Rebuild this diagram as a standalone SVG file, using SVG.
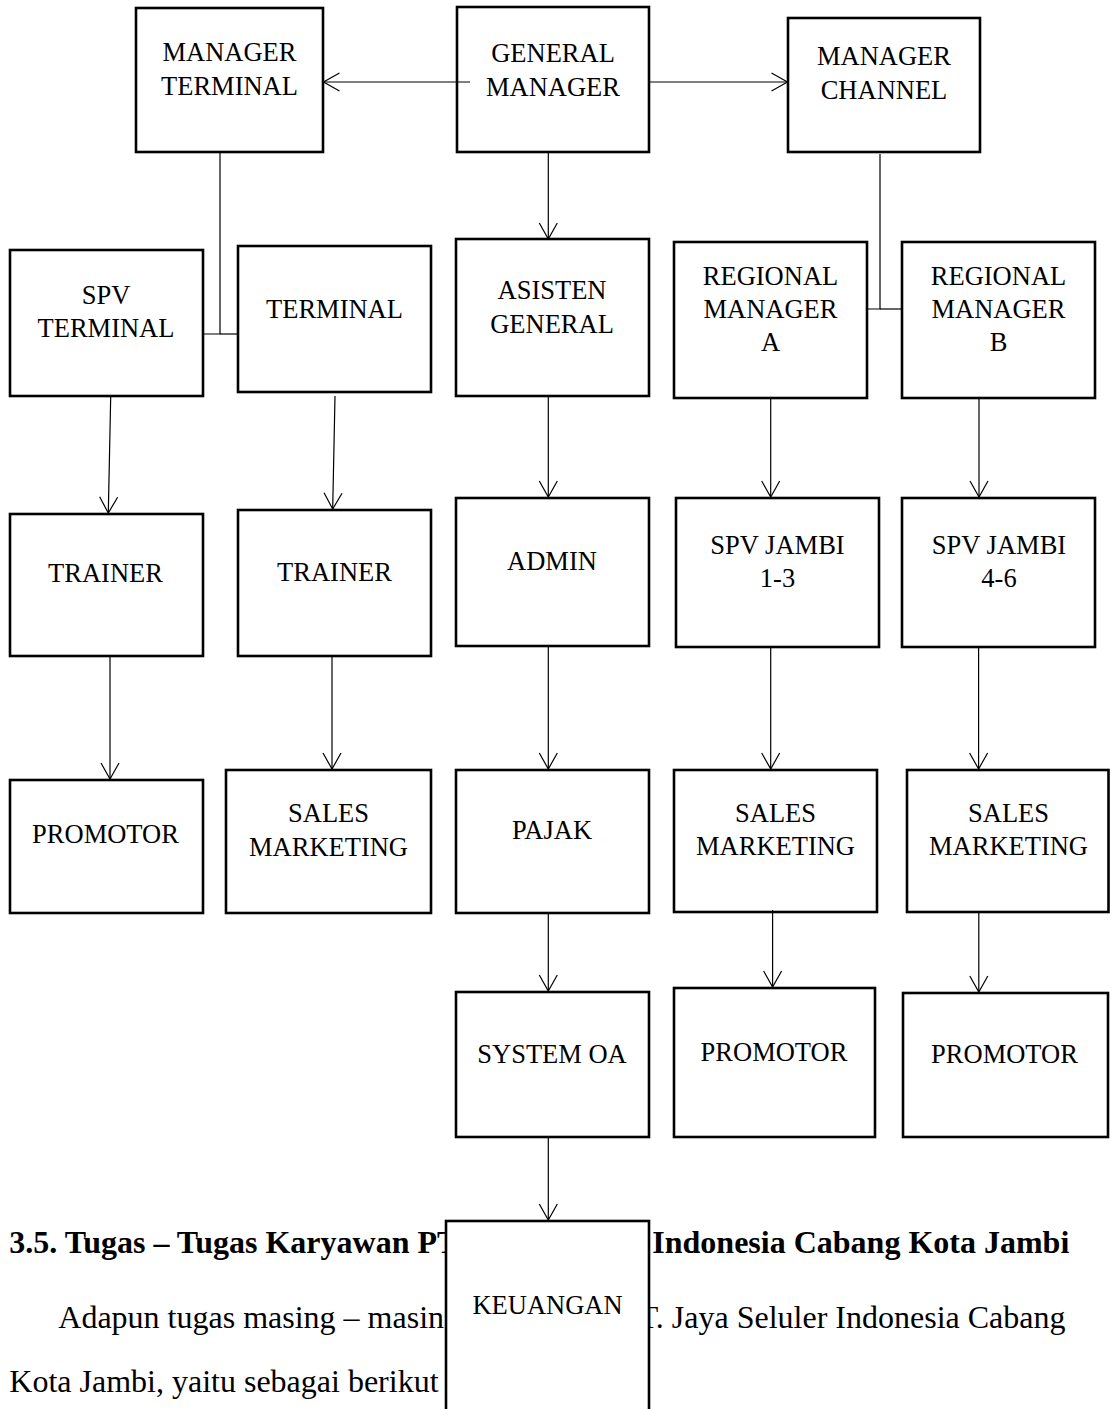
<svg xmlns="http://www.w3.org/2000/svg" width="1111" height="1409" viewBox="0 0 1111 1409">
<style>
.box{fill:#fff;stroke:#000;stroke-width:2.6}
.lbl{font-family:"Liberation Serif","Times New Roman",serif;font-size:26.5px;fill:#000;text-anchor:middle}
.ln{fill:none;stroke:#000;stroke-width:1.2}
.body{font-family:"Liberation Serif","Times New Roman",serif;font-size:32px;fill:#000}
.head{font-weight:bold}
</style>
<defs>
<marker id="arr" markerUnits="userSpaceOnUse" markerWidth="20" markerHeight="20" viewBox="-18 -10 20 20" refX="0" refY="0" orient="auto">
<path d="M-16,-9 L0,0 L-16,9" fill="none" stroke="#000" stroke-width="1.2"/>
</marker>
</defs>
<rect width="1111" height="1409" fill="#fff"/>
<g id="bodytext">
<text class="body head" x="9.3" y="1253">3.5. Tugas – Tugas Karyawan PT</text>
<text class="body head" x="652.3" y="1253">Indonesia Cabang Kota Jambi</text>
<text class="body" x="58.3" y="1328">Adapun tugas masing – masin</text>
<text class="body" x="1065.5" y="1328" text-anchor="end">T. Jaya Seluler Indonesia Cabang</text>
<text class="body" x="9.3" y="1392">Kota Jambi, yaitu sebagai berikut</text>
</g>
<g id="n-manager-terminal"><rect class="box" x="136" y="8" width="187" height="144"/><text class="lbl" x="229.5" y="61">MANAGER</text><text class="lbl" x="229.5" y="95">TERMINAL</text></g>
<g id="n-general-manager"><rect class="box" x="457" y="7" width="192" height="145"/><text class="lbl" x="553" y="61.5">GENERAL</text><text class="lbl" x="553" y="95.5">MANAGER</text></g>
<g id="n-manager-channel"><rect class="box" x="788" y="18" width="192" height="134"/><text class="lbl" x="884" y="65">MANAGER</text><text class="lbl" x="884" y="98.5">CHANNEL</text></g>
<g id="n-spv-terminal"><rect class="box" x="10" y="250" width="193" height="146"/><text class="lbl" x="106" y="304">SPV</text><text class="lbl" x="106" y="336.5">TERMINAL</text></g>
<g id="n-terminal"><rect class="box" x="238" y="246" width="193" height="146"/><text class="lbl" x="334.5" y="317.5">TERMINAL</text></g>
<g id="n-asisten-general"><rect class="box" x="456" y="239" width="193" height="157"/><text class="lbl" x="552" y="299">ASISTEN</text><text class="lbl" x="552" y="333">GENERAL</text></g>
<g id="n-regional-a"><rect class="box" x="674" y="242" width="193" height="156"/><text class="lbl" x="770.5" y="285">REGIONAL</text><text class="lbl" x="770.5" y="317.5">MANAGER</text><text class="lbl" x="770.5" y="350.5">A</text></g>
<g id="n-regional-b"><rect class="box" x="902" y="242" width="193" height="156"/><text class="lbl" x="998.5" y="285">REGIONAL</text><text class="lbl" x="998.5" y="317.5">MANAGER</text><text class="lbl" x="998.5" y="350.5">B</text></g>
<g id="n-trainer-1"><rect class="box" x="10" y="514" width="193" height="142"/><text class="lbl" x="105.5" y="582">TRAINER</text></g>
<g id="n-trainer-2"><rect class="box" x="238" y="510" width="193" height="146"/><text class="lbl" x="334.5" y="581">TRAINER</text></g>
<g id="n-admin"><rect class="box" x="456" y="498" width="193" height="148"/><text class="lbl" x="552" y="570">ADMIN</text></g>
<g id="n-spv-jambi-13"><rect class="box" x="676" y="498" width="203" height="149"/><text class="lbl" x="777.5" y="554">SPV JAMBI</text><text class="lbl" x="777.5" y="587">1-3</text></g>
<g id="n-spv-jambi-46"><rect class="box" x="902" y="498" width="193" height="149"/><text class="lbl" x="999" y="554">SPV JAMBI</text><text class="lbl" x="999" y="587">4-6</text></g>
<g id="n-promotor-1"><rect class="box" x="10" y="780" width="193" height="133"/><text class="lbl" x="105.5" y="843">PROMOTOR</text></g>
<g id="n-sales-2"><rect class="box" x="226" y="770" width="205" height="143"/><text class="lbl" x="328.5" y="822">SALES</text><text class="lbl" x="328.5" y="856">MARKETING</text></g>
<g id="n-pajak"><rect class="box" x="456" y="770" width="193" height="143"/><text class="lbl" x="552" y="838.5">PAJAK</text></g>
<g id="n-sales-3"><rect class="box" x="674" y="770" width="203" height="142"/><text class="lbl" x="775.5" y="822">SALES</text><text class="lbl" x="775.5" y="855">MARKETING</text></g>
<g id="n-sales-4"><rect class="box" x="907" y="770" width="201.5" height="142"/><text class="lbl" x="1008.5" y="822">SALES</text><text class="lbl" x="1008.5" y="855">MARKETING</text></g>
<g id="n-system-oa"><rect class="box" x="456" y="992" width="193" height="145"/><text class="lbl" x="552" y="1063">SYSTEM OA</text></g>
<g id="n-promotor-3"><rect class="box" x="674" y="988" width="201" height="149"/><text class="lbl" x="774" y="1061">PROMOTOR</text></g>
<g id="n-promotor-4"><rect class="box" x="903" y="993" width="205" height="144"/><text class="lbl" x="1004.5" y="1063">PROMOTOR</text></g>
<g id="n-keuangan"><rect class="box" x="446" y="1221" width="203" height="220"/><text class="lbl" x="547.5" y="1314">KEUANGAN</text></g>
<g id="connectors">
<line class="ln" x1="470" y1="82" x2="323.5" y2="82" marker-end="url(#arr)"/>
<line class="ln" x1="649" y1="82" x2="787.5" y2="82" marker-end="url(#arr)"/>
<line class="ln" x1="548.3" y1="153" x2="548.3" y2="239" marker-end="url(#arr)"/>
<polyline class="ln" points="220,153 220,334 203,334"/>
<line class="ln" x1="220" y1="334" x2="238" y2="334"/>
<polyline class="ln" points="880,154 880,309 867,309"/>
<line class="ln" x1="880" y1="309" x2="902" y2="309"/>
<line class="ln" x1="110.7" y1="397" x2="108.3" y2="513" marker-end="url(#arr)"/>
<line class="ln" x1="335" y1="396" x2="332.7" y2="509" marker-end="url(#arr)"/>
<line class="ln" x1="548.3" y1="397" x2="548.3" y2="497" marker-end="url(#arr)"/>
<line class="ln" x1="770.7" y1="399" x2="770.7" y2="497" marker-end="url(#arr)"/>
<line class="ln" x1="979" y1="397" x2="979" y2="497" marker-end="url(#arr)"/>
<line class="ln" x1="110" y1="657" x2="110" y2="779" marker-end="url(#arr)"/>
<line class="ln" x1="332" y1="657" x2="332" y2="769" marker-end="url(#arr)"/>
<line class="ln" x1="548.3" y1="647" x2="548.3" y2="769" marker-end="url(#arr)"/>
<line class="ln" x1="770.7" y1="648" x2="770.7" y2="769" marker-end="url(#arr)"/>
<line class="ln" x1="978.6" y1="648" x2="978.6" y2="769" marker-end="url(#arr)"/>
<line class="ln" x1="548.3" y1="914" x2="548.3" y2="991" marker-end="url(#arr)"/>
<line class="ln" x1="772.6" y1="910" x2="772.6" y2="987" marker-end="url(#arr)"/>
<line class="ln" x1="978.8" y1="913" x2="978.8" y2="992" marker-end="url(#arr)"/>
<line class="ln" x1="548.3" y1="1138" x2="548.3" y2="1220" marker-end="url(#arr)"/>
</g>
</svg>
